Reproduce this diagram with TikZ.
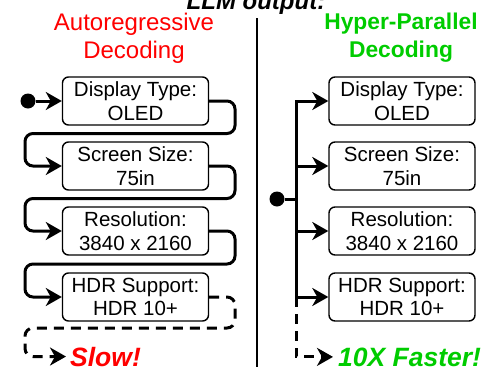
\documentclass[tikz,border=0pt]{standalone}
\usepackage{fontspec}
\setmainfont{Liberation Sans}
\usetikzlibrary{arrows.meta,calc}
\definecolor{hdrred}{RGB}{255,0,0}
\definecolor{hdrgreen}{RGB}{0,204,0}

\begin{document}
\begin{tikzpicture}[x=1pt,y=-1pt,
  field/.style={draw, line width=1.4pt, rounded corners=6pt,
    minimum width=146pt, minimum height=48pt, inner sep=0pt,
    align=center, font=\fontsize{20.5}{23.5}\selectfont},
  wire/.style={line width=3pt},
  conn/.style={wire, -{Stealth[length=16pt,width=18pt,inset=5pt]}},
  dashwire/.style={dash pattern=on 10pt off 7pt},
  startdot/.style={circle, fill=black, minimum size=15pt, inner sep=0pt},
  header/.style={align=center, font=\fontsize{24}{28}\selectfont},
  verdict/.style={anchor=base west, inner sep=0pt,
    font=\bfseries\itshape\fontsize{26.5}{30}\selectfont}]

\useasboundingbox (0,0) rectangle (487,367);

% title and column headers
\node[anchor=base, font=\bfseries\itshape\fontsize{24}{28}\selectfont] (title) at (256,9) {LLM output:};
\node[header, text=hdrred] (lhead) at (134,38) {Autoregressive\\Decoding};
\node[header, text=hdrgreen, font=\bfseries\fontsize{22.8}{28}\selectfont] (rhead) at (401,38) {Hyper-Parallel\\Decoding};

% separator
\coordinate (septop) at (257,18);
\coordinate (sepbot) at (257,367);
\draw[line width=1.4pt] (septop) -- (sepbot);

% ---------- autoregressive column ----------
\node[field] (a1) at (135.5,101) {Display Type:\\OLED};
\node[field] (a2) at (135.5,166) {Screen Size:\\75in};
\node[field] (a3) at (135.5,231) {Resolution:\\3840 x 2160};
\node[field] (a4) at (135.5,297) {HDR Support:\\HDR 10+};
\node[startdot] (adot) at (28,101) {};
\node[verdict, text=hdrred] (slow) at (70,366) {Slow!};

\coordinate (L) at (25,0);
\coordinate (R) at (235,0);
\coordinate (m12) at (0,133.5);
\coordinate (m23) at (0,198.5);
\coordinate (m34) at (0,264);
\coordinate (m4e) at (0,328);

\draw[conn] (adot) -- (a1.west);
\draw[conn, rounded corners=8pt] (a1.east) -| (R |- m12) -- (L |- m12) |- (a2.west);
\draw[conn, rounded corners=8pt] (a2.east) -| (R |- m23) -- (L |- m23) |- (a3.west);
\draw[conn, rounded corners=8pt] (a3.east) -| (R |- m34) -- (L |- m34) |- (a4.west);
\draw[conn, dashwire, rounded corners=8pt, shorten >=4pt] (a4.east) -| (R |- m4e) -- (L |- m4e) |- (slow.west);

% ---------- hyper-parallel column ----------
\node[field] (b1) at (402,101) {Display Type:\\OLED};
\node[field] (b2) at (402,166) {Screen Size:\\75in};
\node[field] (b3) at (402,231) {Resolution:\\3840 x 2160};
\node[field] (b4) at (402,297) {HDR Support:\\HDR 10+};
\node[startdot] (bdot) at (277,199) {};
\node[verdict, text=hdrgreen] (fast) at (338,366) {10X Faster!};

\coordinate (T) at (296,0);

\draw[wire] (bdot) -- (T |- bdot);
\draw[conn] (T |- b4.west) -- (T |- b1.west) -- (b1.west);
\draw[conn] (T |- b2.west) -- (b2.west);
\draw[conn] (T |- b3.west) -- (b3.west);
\draw[conn] (T |- b4.west) -- (b4.west);
\draw[conn, dashwire, shorten >=5pt] (T |- b4.west) |- (fast.west);

\end{tikzpicture}
\end{document}
